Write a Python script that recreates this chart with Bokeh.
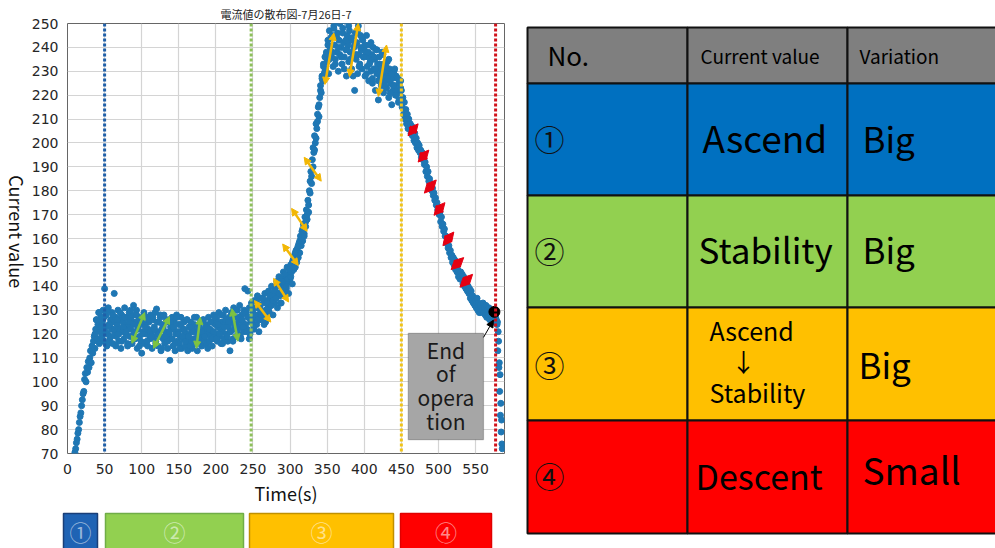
import math
from bokeh.plotting import figure
from bokeh.models import (Range1d, FixedTicker, Span, Arrow, NormalHead,
                          ColumnDataSource, Label, BoxAnnotation)
from bokeh.layouts import row, column
from bokeh.embed import file_html
from bokeh.resources import INLINE

# ---------------- data ----------------
time_main = list(range(10, 580))  # one reading per second
current_main = [
    70.5, 72, 74.5, 76, 78.5, 80, 83, 85.5, 87, 90,
    92.5, 95, 96, 101, 103.5, 100, 106, 104, 108.5, 106,
    110, 113, 108, 115, 112, 117, 119, 114, 122, 126,
    118, 124, 129, 116, 121, 127, 119, 125, 130, 117,
    139, 123, 128, 115, 120, 131, 124, 118, 126, 122,
    129, 116, 125, 137, 121, 127, 119, 124, 130, 117,
    122, 126, 114, 128, 121, 125, 118, 131, 123, 120,
    127, 115, 124, 129, 119, 122, 126, 116, 128, 132,
    121, 118, 125, 130, 114, 123, 127, 119, 124, 117,
    112, 126, 121, 129, 116, 124, 120, 127, 115, 122,
    125, 118, 128, 121, 114, 126, 119, 123, 129, 117,
    130.5, 121, 115, 125, 119, 127, 113, 122, 124, 118,
    128, 116, 121, 125, 119, 114, 126, 120, 109, 123,
    118, 127, 115, 122, 125, 113, 120, 128, 117, 121,
    124, 116, 119, 127, 114, 122, 118, 125, 121, 115,
    120, 126, 113, 119, 123, 117, 125, 121, 114, 122,
    118, 124, 116, 121, 127, 113, 120, 123, 117, 125,
    119, 115, 122, 126, 118, 121, 124, 116, 123, 120,
    127, 117, 122, 119, 125, 115, 121, 128, 118, 124,
    120, 126, 117, 123, 129, 119, 122, 116, 125, 121,
    128, 118, 124, 130, 120, 126, 117, 123, 127, 113,
    121, 129, 125, 118, 131, 122, 127, 119, 124, 130,
    120, 126, 132, 123, 118, 128, 125, 121, 130, 139,
    124, 129, 122, 138, 127, 131, 120, 126, 133, 125,
    129, 122, 134, 127, 131, 124, 136, 128, 121, 132,
    130, 126, 135, 128, 133, 124, 137, 130, 127, 134,
    131, 138, 129, 135, 132, 140, 134, 128, 137, 133,
    139, 135, 142, 131, 137, 144, 136, 140, 133, 143,
    138, 146, 141, 136, 144, 139, 148, 142, 137, 145,
    143, 149, 146, 141, 151, 147, 153, 148, 155, 150,
    156, 152, 158, 154, 161, 157, 163, 159, 166, 162,
    169, 165, 172, 168, 176, 171, 180, 184, 188, 186,
    193, 198, 196, 203, 200, 208, 206, 212, 215, 211,
    219, 224, 221, 228, 226, 232, 229, 236, 231, 238,
    234, 243, 229, 247, 239, 252, 236, 245, 232, 249,
    241, 235, 251, 238, 246, 230, 243, 237, 253, 240,
    233, 248, 242, 236, 251, 239, 228, 245, 241, 234,
    247, 238, 243, 231, 252, 236, 240, 222, 246, 235,
    242, 229, 249, 237, 233, 245, 239, 231, 243, 236,
    240, 228, 238, 245, 232, 236, 226, 241, 234, 230,
    237, 225, 240, 231, 235, 222, 239, 229, 233, 218,
    236, 227, 231, 224, 238, 229, 221, 233, 226, 230,
    223, 234, 228, 219, 231, 225, 229, 216, 227, 222,
    230, 224, 220, 228, 222, 227, 217, 225, 221, 226,
    222, 215, 219, 212, 217, 210, 214, 208, 212, 206,
    210, 206, 208, 204, 207, 203, 205, 201, 204, 200,
    202, 198, 200, 197, 199, 196, 197, 194, 196, 193,
    194, 191, 192, 188, 190, 186, 188, 184, 185, 182,
    183, 180, 181, 178, 179, 176, 177, 174, 175, 172,
    173, 170, 171, 167, 169, 165, 166, 163, 164, 161,
    161, 158, 159, 156, 157, 154, 155, 152, 153, 150,
    152, 149, 151, 147, 149, 146, 147, 144, 146, 143,
    146, 143, 145, 141, 144, 140, 142, 139, 141, 138,
    140, 137, 139, 135, 138, 134, 136, 133, 135, 132,
    134, 131, 135, 130, 133, 129, 132, 129, 131, 130,
    133, 129, 131, 128, 132, 127, 130, 128, 131, 126,
    130, 127, 129, 126, 128, 125, 129, 127, 126, 124,
]

time_extra = list(range(37, 450, 2))  # second reading stream
current_extra = [
    120, 126, 117, 129, 123, 118, 127, 121, 130, 116,
    124, 119, 128, 122, 115, 126, 120, 129, 117, 123,
    127, 121, 116, 125, 130, 119, 124, 118, 128, 122,
    115, 125, 120, 128, 123, 117, 126, 121, 119, 127,
    122, 116, 125, 120, 128, 114, 123, 119, 126, 117,
    121, 125, 118, 123, 116, 127, 120, 114, 124, 119,
    122, 117, 126, 119, 115, 123, 121, 127, 118, 120,
    124, 116, 121, 126, 119, 123, 114, 122, 125, 118,
    121, 127, 118, 124, 120, 128, 116, 123, 126, 119,
    125, 121, 128, 117, 124, 130, 122, 127, 119, 126,
    123, 129, 121, 127, 118, 125, 131, 123, 128, 134,
    126, 131, 128, 135, 129, 125, 133, 130, 136, 132,
    134, 138, 135, 141, 137, 133, 142, 139, 145, 140,
    143, 147, 144, 150, 148, 154, 151, 157, 159, 160,
    164, 161, 167, 170, 174, 179, 183, 190, 197, 202,
    209, 216, 222, 227, 233, 230, 237, 241, 235, 244,
    238, 248, 233, 244, 240, 250, 236, 246, 231, 243,
    239, 249, 235, 244, 228, 241, 237, 247, 232, 240,
    244, 236, 241, 229, 238, 233, 242, 227, 236, 231,
    239, 226, 233, 228, 237, 224, 232, 227, 235, 221,
    229, 224, 231, 220, 227, 218, 223,
]

time_drop = [579.5, 580.5, 581, 580, 582, 581.5, 583, 582.5, 584, 583.5, 585, 584.5, 585.5, 586]
current_drop = [125, 121, 117, 113, 108, 106, 103, 96, 91, 86, 84, 79, 74, 72]

x_ticks = [0, 50, 100, 150, 200, 250, 300, 350, 400, 450, 500, 550]
y_ticks = [70, 80, 90, 100, 110, 120, 130, 140, 150, 160, 170, 180, 190, 200,
           210, 220, 230, 240, 250]

phase_lines = [50, 247.5, 450, 577]
phase_colors = ["#1f5fa8", "#8dc05a", "#f0c419", "#d0121b"]
phase_labels = ["①", "②", "③", "④"]
phase_fill = ["#1f63b4", "#92d050", "#ffc000", "#ff0000"]
phase_edge = ["#1a3f78", "#70ad47", "#c09000", "#e00000"]

green_arrows = dict(x0=[86.8, 116, 173.6, 221.6], y0=[116.1, 114, 114, 130.6],
                    x1=[104, 137.5, 179, 229.6], y1=[129, 127.3, 127, 117])
orange_arrows = dict(x0=[252, 277.7, 290, 302, 319, 347, 380, 419],
                     y0=[134, 143.3, 157.7, 172.6, 194, 224.5, 227.8, 219.5],
                     x1=[274, 298, 311, 323, 342, 359, 392, 430],
                     y1=[125, 133.4, 148.7, 163, 184, 246, 250, 241])
red_arrows = dict(x0=[459, 472.6, 481, 494, 506, 517, 529],
                  y0=[203, 192, 179, 169.7, 157, 147, 139.6],
                  x1=[472.6, 487, 497, 508.7, 520.7, 534, 546],
                  y1=[208, 197, 184.5, 175, 162.7, 152, 145])

end_point = (575.4, 129.3)
end_text = ["End", "of", "opera", "tion"]

chart_title = "電流値の散布図-7月26日-7"
x_label = "Time(s)"
y_label = "Current value"

table_header = ["No.", "Current value", "Variation"]
table_numbers = ["①", "②", "③", "④"]
table_current = ["Ascend", "Stability", "Ascend\n↓\nStability", "Descent"]
table_variation = ["Big", "Big", "Big", "Small"]
table_colors = ["#0070c0", "#92d050", "#ffc000", "#ff0000"]

JP = "Noto Sans CJK JP"

def blank_fig(w, h, xr, yr):
    f = figure(width=w, height=h, x_range=Range1d(*xr), y_range=Range1d(*yr),
               output_backend="svg", toolbar_location=None, min_border=0,
               x_axis_location=None, y_axis_location=None)
    f.grid.visible = False
    f.outline_line_color = None
    f.background_fill_color = "white"
    f.border_fill_color = "white"
    return f

# ---------------- y-axis label strip ----------------
yl = blank_fig(28, 508, (0, 28), (0, 508))
yl.add_layout(Label(x=16, y=508 - 246, text=y_label, text_align="center",
                    text_baseline="middle", angle=-math.pi / 2, text_font=JP,
                    text_font_size="18px", text_color="#111111"))

# ---------------- scatter chart ----------------
p = figure(width=492, height=508, x_range=Range1d(0, 589), y_range=Range1d(70, 250),
           output_backend="svg", toolbar_location=None, title=chart_title,
           min_border_left=35, min_border_right=16, min_border_top=23, min_border_bottom=48)
p.title.align = "center"
p.title.text_font = JP
p.title.text_font_size = "11px"
p.title.text_font_style = "normal"
p.title.text_color = "#222222"
p.title.standoff = 4
p.background_fill_color = "white"
p.border_fill_color = "white"
p.outline_line_color = "#666666"
p.outline_line_width = 1
p.xaxis.ticker = FixedTicker(ticks=x_ticks)
p.yaxis.ticker = FixedTicker(ticks=y_ticks)
for ax in (p.xaxis, p.yaxis):
    ax.axis_line_color = None
    ax.major_tick_line_color = None
    ax.minor_tick_line_color = None
    ax.major_label_text_font = "DejaVu Sans"
    ax.major_label_text_font_size = "14px"
    ax.major_label_text_color = "#262626"
    ax.major_label_standoff = 4
p.yaxis.major_label_standoff = 3
p.xaxis.axis_label = x_label
p.xaxis.axis_label_text_font = JP
p.xaxis.axis_label_text_font_size = "18px"
p.xaxis.axis_label_text_font_style = "normal"
p.xaxis.axis_label_text_color = "#111111"
p.xaxis.axis_label_standoff = 3
p.grid.grid_line_color = "#d4d4d4"
p.grid.grid_line_width = 1.2

p.scatter(time_main, current_main, size=6, color="#1f77b4")
p.scatter(time_extra, current_extra, size=6, color="#1f77b4")
p.scatter(time_drop, current_drop, size=6, color="#1f77b4")

for loc, col in zip(phase_lines, phase_colors):
    p.add_layout(Span(location=loc, dimension="height", line_color=col,
                      line_width=3, line_dash="3 2"))

def add_arrows(d, color, size, lw):
    src = ColumnDataSource(d)
    p.add_layout(Arrow(x_start="x0", y_start="y0", x_end="x1", y_end="y1", source=src,
                       line_color=color, line_width=lw,
                       start=NormalHead(size=size, fill_color=color, line_color=color),
                       end=NormalHead(size=size, fill_color=color, line_color=color)))

add_arrows(green_arrows, "#7dc242", 7, 2.5)
add_arrows(orange_arrows, "#f2b705", 7, 2.5)
add_arrows(red_arrows, "#e60012", 9, 4)

p.add_layout(BoxAnnotation(left=459.3, right=560.7, top=120.3, bottom=75.8,
                           fill_color="#a6a6a6", fill_alpha=1.0,
                           line_color="#3a3a3a", line_width=1.2))
for txt, yy in zip(end_text, [113.3, 103.8, 93.5, 83.6]):
    p.add_layout(Label(x=510, y=yy, text=txt, text_align="center", text_baseline="middle",
                       text_font=JP, text_font_size="21px", text_color="#1a1a1a"))
p.add_layout(Arrow(x_start=560.7, y_start=118.6, x_end=574, y_end=125.8,
                   line_color="black", line_width=1,
                   end=NormalHead(size=7, fill_color="black", line_color="black")))
p.scatter([end_point[0]], [end_point[1]], size=11, color="black")

# ---------------- phase boxes below the chart ----------------
lf = blank_fig(520, 40, (0, 520), (548, 508))
box_left = [63, 105, 249, 400]
box_right = [97, 243, 393, 491]
lf.quad(left=box_left, right=box_right, top=[513] * 4, bottom=[552] * 4,
        fill_color=phase_fill, line_color=phase_edge, line_width=1.5)
for lab, l, r in zip(phase_labels, box_left, box_right):
    lf.add_layout(Label(x=(l + r) / 2, y=530.5, text=lab, text_align="center",
                        text_baseline="middle", text_font=JP, text_font_size="22px",
                        text_color="white", text_alpha=0.55))

# ---------------- table ----------------
tf = blank_fig(475, 548, (520, 995), (548, 0))
col_edges = [527, 687, 847, 1000]
row_edges = [27, 83, 195, 307, 420, 533]
fills = ["#7f7f7f"] + table_colors
L, R, T, B, F = [], [], [], [], []
for i in range(5):
    for j in range(3):
        L.append(col_edges[j]); R.append(col_edges[j + 1])
        T.append(row_edges[i]); B.append(row_edges[i + 1]); F.append(fills[i])
tf.quad(left=L, right=R, top=T, bottom=B, fill_color=F, line_color="#111111", line_width=2)

def tlabel(x, y, text, size, align="left", color="#000000"):
    tf.add_layout(Label(x=x, y=y, text=text, text_align=align, text_baseline="middle",
                        text_font=JP, text_font_size=size, text_color=color))

tlabel(547, 54, table_header[0], "26px")
tlabel(700, 55, table_header[1], "19px")
tlabel(859, 55, table_header[2], "19px")

num_y = [137, 249, 363, 474]
for k in range(4):
    tlabel(534, num_y[k], table_numbers[k], "30px", color="#111111")

tlabel(702, 136, table_current[0], "37px")
tlabel(698, 248, table_current[1], "35px")
parts = table_current[2].split("\n")
tlabel(709, 329, parts[0], "25px")
tlabel(743, 360, parts[1], "25px", align="center")
tlabel(709, 391, parts[2], "25px")
tlabel(695, 475, table_current[3], "34px")

var_pos = [(862, 137, "35px"), (862, 248, "35px"), (858, 363, "35px"), (862, 468, "37px")]
for (vx, vy, vs), txt in zip(var_pos, table_variation):
    tlabel(vx, vy, txt, vs)

layout = row(column(row(yl, p), lf), tf)
open("out.html", "w").write(file_html(layout, INLINE))
